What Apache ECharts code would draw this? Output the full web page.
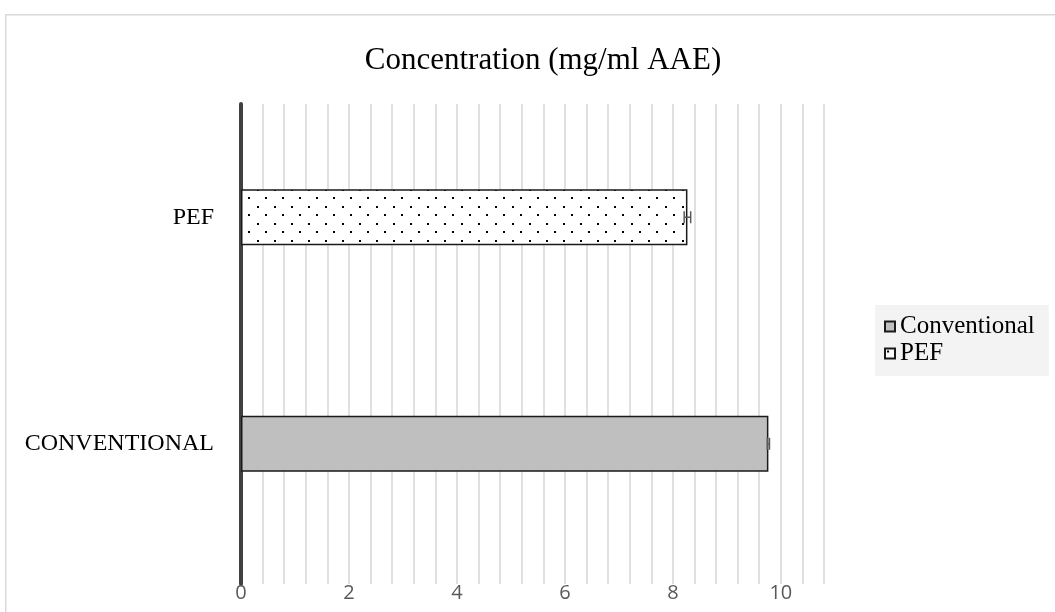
<!DOCTYPE html>
<html>
<head>
<meta charset="utf-8">
<script src="https://cdn.jsdelivr.net/npm/echarts@6/dist/echarts.min.js"></script>
<style>
html,body{margin:0;padding:0;background:#fff;}
#chart{width:1055px;height:612px;}
</style>
</head>
<body>
<div id="chart"></div>
<script>
// ---- data ----
const categories = ['CONVENTIONAL', 'PEF'];
const seriesNames = ['Conventional', 'PEF'];
const conventionalValues = [9.77, '-'];
const pefValues = ['-', 8.27];
const errorValues = [0.02, 0.06];
const tickLabels = ['0', '2', '4', '6', '8', '10'];
const axisMin = 0, axisMax = 10.8, gridStep = 0.4;

// dotted pattern
const pat = document.createElement('canvas');
pat.width = 17; pat.height = 17;
const pctx = pat.getContext('2d');
pctx.fillStyle = '#ffffff';
pctx.fillRect(0, 0, 17, 17);
pctx.fillStyle = '#000000';
pctx.fillRect(2, 2, 2, 2);
pctx.fillRect(10, 10, 2, 2);

const errData = [
  [conventionalValues[0], 0, errorValues[0]],
  [pefValues[1], 1, errorValues[1]]
];

const chart = echarts.init(document.getElementById('chart'), null, {renderer: 'canvas'});
const serif = '"Liberation Serif", "Times New Roman", serif';

chart.setOption({
  animation: false,
  backgroundColor: '#ffffff',
  graphic: [{
    type: 'rect', left: 5, top: 14, z: -10,
    shape: {width: 1070, height: 620},
    style: {fill: '#ffffff', stroke: '#d9d9d9', lineWidth: 1.5}
  }],
  title: {
    text: 'Concentration (mg/ml AAE)',
    left: 538, top: 40, textAlign: 'center',
    textStyle: {fontFamily: serif, fontSize: 31, fontWeight: 'normal', color: '#000'}
  },
  legend: {
    data: seriesNames,
    orient: 'vertical',
    left: 875, top: 305,
    backgroundColor: '#f3f3f3',
    padding: [9, 14, 10, 9],
    icon: 'rect',
    itemWidth: 10, itemHeight: 10, itemGap: 2,
    textStyle: {fontFamily: serif, fontSize: 25, color: '#000'}
  },
  grid: [
    {left: 241, right: 231, top: 104, bottom: 55},
    {left: 241, right: 231, top: 104, bottom: 28}
  ],
  xAxis: [
    {gridIndex: 0, type: 'value', min: axisMin, max: axisMax, interval: gridStep, show: false},
    {gridIndex: 1, type: 'value', min: axisMin, max: axisMax, interval: gridStep,
      axisLine: {show: false}, axisTick: {show: false},
      splitLine: {show: true, lineStyle: {color: '#d6d6d6', width: 1.5}},
      axisLabel: {
        margin: -1, fontFamily: '"Open Sans", sans-serif', fontSize: 20, color: '#595959',
        formatter: function (v) {
          const s = String(+(+v).toFixed(1));
          return tickLabels.indexOf(s) >= 0 ? s : '';
        }
      }
    }
  ],
  yAxis: [
    {gridIndex: 0, type: 'category', data: categories,
      axisLine: {show: false}, axisTick: {show: false}, splitLine: {show: false},
      axisLabel: {margin: 27, fontFamily: serif, fontSize: 24, color: '#000'}
    },
    {gridIndex: 1, type: 'value', min: 0, max: 1,
      axisLine: {show: true, lineStyle: {color: '#404040', width: 4}},
      axisTick: {show: false}, axisLabel: {show: false}, splitLine: {show: false}
    }
  ],
  series: [
    {
      name: seriesNames[0], type: 'bar', xAxisIndex: 0, yAxisIndex: 0, stack: 'all',
      data: conventionalValues, barWidth: 56,
      itemStyle: {color: '#bfbfbf', borderColor: '#1a1a1a', borderWidth: 1.5}
    },
    {
      name: seriesNames[1], type: 'bar', xAxisIndex: 0, yAxisIndex: 0, stack: 'all',
      data: pefValues, barWidth: 56,
      itemStyle: {color: {image: pat, repeat: 'repeat'}, borderColor: '#1a1a1a', borderWidth: 1.5}
    },
    {
      type: 'custom', xAxisIndex: 0, yAxisIndex: 0, z: 5,
      data: errData, encode: {x: 0, y: 1},
      renderItem: function (params, api) {
        const v = api.value(0), c = api.value(1), e = api.value(2);
        const p0 = api.coord([v - e, c]);
        const p1 = api.coord([v + e, c]);
        const h = 6;
        const st = {stroke: '#595959', lineWidth: 1.5};
        return {type: 'group', children: [
          {type: 'line', shape: {x1: p0[0], y1: p0[1], x2: p1[0], y2: p1[1]}, style: st},
          {type: 'line', shape: {x1: p0[0], y1: p0[1] - h, x2: p0[0], y2: p0[1] + h}, style: st},
          {type: 'line', shape: {x1: p1[0], y1: p1[1] - h, x2: p1[0], y2: p1[1] + h}, style: st}
        ]};
      }
    }
  ]
});
</script>
</body>
</html>
